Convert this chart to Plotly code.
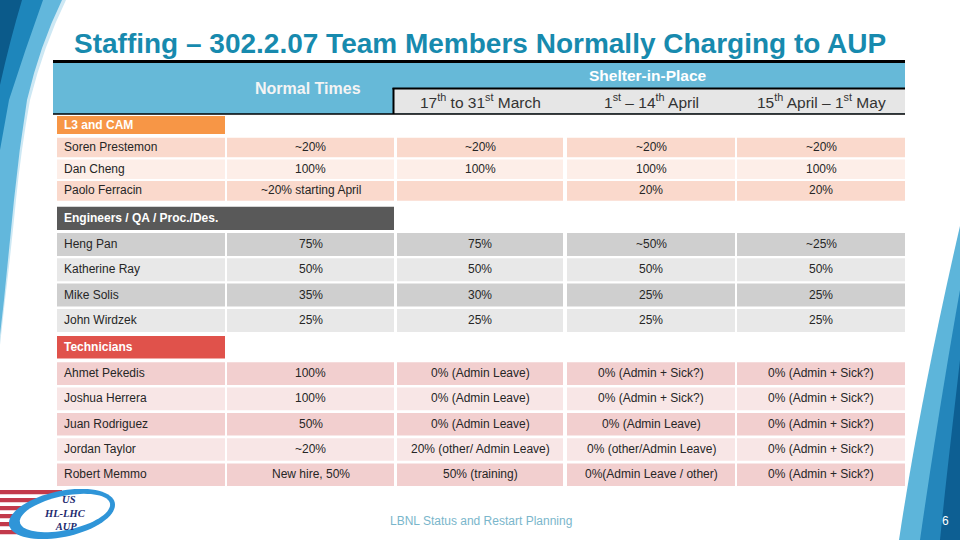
import numpy as np
import plotly.graph_objects as go

# ---------------- data ----------------
title_text = "Staffing – 302.2.07 Team Members Normally Charging to AUP"
normal_header = "Normal Times"
sip_header = "Shelter-in-Place"
period_labels = ["17<sup>th</sup> to 31<sup>st</sup> March",
                 "1<sup>st</sup> – 14<sup>th</sup> April",
                 "15<sup>th</sup> April – 1<sup>st</sup> May"]
section_names = ["L3 and CAM", "Engineers / QA / Proc./Des.", "Technicians"]

l3_names = ["Soren Prestemon", "Dan Cheng", "Paolo Ferracin"]
l3_normal = ["~20%", "100%", "~20% starting April"]
l3_march = ["~20%", "100%", ""]
l3_apr1 = ["~20%", "100%", "20%"]
l3_apr15 = ["~20%", "100%", "20%"]

eng_names = ["Heng Pan", "Katherine Ray", "Mike Solis", "John Wirdzek"]
eng_normal = ["75%", "50%", "35%", "25%"]
eng_march = ["75%", "50%", "30%", "25%"]
eng_apr1 = ["~50%", "50%", "25%", "25%"]
eng_apr15 = ["~25%", "50%", "25%", "25%"]

tech_names = ["Ahmet Pekedis", "Joshua Herrera", "Juan Rodriguez", "Jordan Taylor", "Robert Memmo"]
tech_normal = ["100%", "100%", "50%", "~20%", "New hire, 50%"]
tech_march = ["0% (Admin Leave)", "0% (Admin Leave)", "0% (Admin Leave)",
              "20% (other/ Admin Leave)", "50% (training)"]
tech_apr1 = ["0% (Admin + Sick?)", "0% (Admin + Sick?)", "0% (Admin Leave)",
             "0% (other/Admin Leave)", "0%(Admin Leave / other)"]
tech_apr15 = ["0% (Admin + Sick?)", "0% (Admin + Sick?)", "0% (Admin + Sick?)",
              "0% (Admin + Sick?)", "0% (Admin + Sick?)"]

footer_text = "LBNL Status and Restart Planning"
page_number = "6"
logo_lines = ["US", "HL-LHC", "AUP"]

sections = [
    (l3_names, [l3_normal, l3_march, l3_apr1, l3_apr15]),
    (eng_names, [eng_normal, eng_march, eng_apr1, eng_apr15]),
    (tech_names, [tech_normal, tech_march, tech_apr1, tech_apr15]),
]

# ---------------- layout / style ----------------
W, H = 960, 540
FONT = "Liberation Sans, Arial, sans-serif"
col_x0 = [57, 227, 397, 567, 737]
col_x1 = [225, 394, 563, 735, 905]
sec_geom = [
    dict(hy0=116, hy1=134, span=1, r0=137.7, pitch=21.7, h=19.6,
         colors=("#f79646", "#fad9cc", "#fdeee8")),
    dict(hy0=206.7, hy1=230, span=2, r0=233.0, pitch=25.3, h=23.0,
         colors=("#595959", "#cfcfcf", "#e8e8e8")),
    dict(hy0=336, hy1=358.5, span=1, r0=362.3, pitch=25.3, h=22.6,
         colors=("#e0524b", "#f2cfcf", "#f8e6e6")),
]

bar_y, bar_len, bar_base, bar_w, bar_col = [], [], [], [], []
annotations = []
shapes = []


def add_cell(x0, x1, y0, y1, color):
    bar_y.append((y0 + y1) / 2)
    bar_w.append(y1 - y0)
    bar_base.append(x0)
    bar_len.append(x1 - x0)
    bar_col.append(color)


def add_text(x, y, text, size=12, color="#262626", anchor="center", bold=False, family=FONT, italic=False):
    annotations.append(dict(
        x=x, y=y, xref="x", yref="y", text=text, showarrow=False,
        xanchor=anchor, yanchor="middle",
        font=dict(family=family, size=size, color=color,
                  weight="bold" if bold else "normal",
                  style="italic" if italic else "normal"),
    ))


# ---- decorative swooshes (slide template) ----
shapes += [
    dict(type="path", path="M0,0 L66,0 Q44,45 30,100 Q21,150 16,200 Q10,260 5,300 L0,345 Z",
         fillcolor="#cde8f4", line_width=0, layer="below"),
    dict(type="path", path="M0,0 L62,0 Q40,45 27,100 Q19,150 14,200 Q9,250 4,300 L0,335 Z",
         fillcolor="#62b7dc", line_width=0, layer="below"),
    dict(type="path", path="M0,0 L43,0 Q25,50 9,100 L0,150 Z", fillcolor="#1e86bb", line_width=0, layer="below"),
    dict(type="path", path="M0,0 L22,0 Q10,40 0,85 Z", fillcolor="#0b5a8a", line_width=0, layer="below"),
    dict(type="path", path="M960,226 C936,330 914,440 899,540 L960,540 Z", fillcolor="#5db5da", line_width=0, layer="below"),
    dict(type="path", path="M960,290 C944,380 930,470 920,540 L960,540 Z", fillcolor="#2486bb", line_width=0, layer="below"),
    dict(type="path", path="M960,360 C952,430 945,490 940,540 L960,540 Z", fillcolor="#0d5f93", line_width=0, layer="below"),
]

# ---- header band ----
shapes += [
    dict(type="rect", x0=53, x1=905, y0=62, y1=114, fillcolor="#66b9d8", line_width=0, layer="below"),
    dict(type="rect", x0=393, x1=905, y0=88.5, y1=113.5, fillcolor="#e6e6e6", line_width=0, layer="below"),
    dict(type="line", x0=53, x1=905, y0=61.5, y1=61.5, line=dict(color="#000000", width=3)),
    dict(type="line", x0=392.5, x1=905, y0=88.5, y1=88.5, line=dict(color="#000000", width=2)),
    dict(type="line", x0=393.5, x1=393.5, y0=88, y1=114, line=dict(color="#000000", width=2)),
    dict(type="line", x0=53, x1=905, y0=114, y1=114, line=dict(color="#000000", width=1.5)),
]
add_text(308, 88, normal_header, size=16, color="#f4f4f4", bold=True)
add_text(648, 75, sip_header, size=15.5, color="#ffffff", bold=True)
for k, lab in enumerate(period_labels):
    add_text((col_x0[k + 2] + col_x1[k + 2]) / 2, 100.5, lab, size=15.5, color="#333333")

# ---- table body ----
for (names, cols), g, sec_name in zip(sections, sec_geom, section_names):
    hx1 = col_x1[g["span"] - 1]
    add_cell(col_x0[0], hx1, g["hy0"], g["hy1"], g["colors"][0])
    add_text(col_x0[0] + 5, (g["hy0"] + g["hy1"]) / 2, sec_name, size=12, color="#ffffff", bold=True, anchor="left")
    for i, nm in enumerate(names):
        y0 = g["r0"] + i * g["pitch"]
        y1 = y0 + g["h"]
        yc = (y0 + y1) / 2 - 0.5
        fill = g["colors"][1] if i % 2 == 0 else g["colors"][2]
        for c in range(5):
            add_cell(col_x0[c], col_x1[c], y0, y1, fill)
        add_text(col_x0[0] + 5, yc, nm, anchor="left")
        for c, vals in enumerate(cols):
            if vals[i]:
                add_text((col_x0[c + 1] + col_x1[c + 1]) / 2, yc, vals[i])

# ---- title and footer ----
add_text(479.5, 43, title_text, size=28, color="#178aae", bold=True)
add_text(481, 521, footer_text, size=12, color="#7ab6cb")
add_text(945, 521, page_number, size=12, color="#ffffff")

# ---- logo ----
for k in range(6):
    y0 = 490 + k * 8
    shapes.append(dict(type="rect", x0=0, x1=62, y0=y0, y1=y0 + 4.2, fillcolor="#c23a4b", line_width=0, layer="below"))
t = np.linspace(0, 2 * np.pi, 72)
ang = np.deg2rad(-12)


def ell_path(cx, cy, rx, ry):
    xs = cx + rx * np.cos(t) * np.cos(ang) - ry * np.sin(t) * np.sin(ang)
    ys = cy + rx * np.cos(t) * np.sin(ang) + ry * np.sin(t) * np.cos(ang)
    return "M" + " L".join(f"{a:.1f},{b:.1f}" for a, b in zip(xs, ys)) + " Z"


shapes.append(dict(type="path", path=ell_path(62, 514, 54, 23), fillcolor="#2f95d8", line_width=0))
shapes.append(dict(type="path", path=ell_path(65, 513, 46, 17), fillcolor="#ffffff", line_width=0))
logo_text = "&nbsp;&nbsp;&nbsp;" + logo_lines[0] + "<br>" + logo_lines[1] + "<br>&nbsp;" + logo_lines[2]
add_text(65, 513, logo_text, size=10.5, color="#1d2a6e",
         family="Liberation Serif, Times New Roman, serif", italic=True, bold=True)

fig = go.Figure()
fig.add_trace(go.Bar(
    orientation="h", y=bar_y, x=bar_len, base=bar_base, width=bar_w,
    marker=dict(color=bar_col, line=dict(width=0)), hoverinfo="skip", showlegend=False,
))
fig.update_layout(
    width=W, height=H, margin=dict(l=0, r=0, t=0, b=0),
    paper_bgcolor="white", plot_bgcolor="white", showlegend=False,
    barmode="overlay",
    xaxis=dict(range=[0, W], visible=False, fixedrange=True),
    yaxis=dict(range=[H, 0], visible=False, fixedrange=True),
    shapes=shapes, annotations=annotations,
)
fig.write_html("out.html", config={"displayModeBar": False, "staticPlot": True},
               post_script="document.body.style.margin='0';document.body.style.overflow='hidden';")
